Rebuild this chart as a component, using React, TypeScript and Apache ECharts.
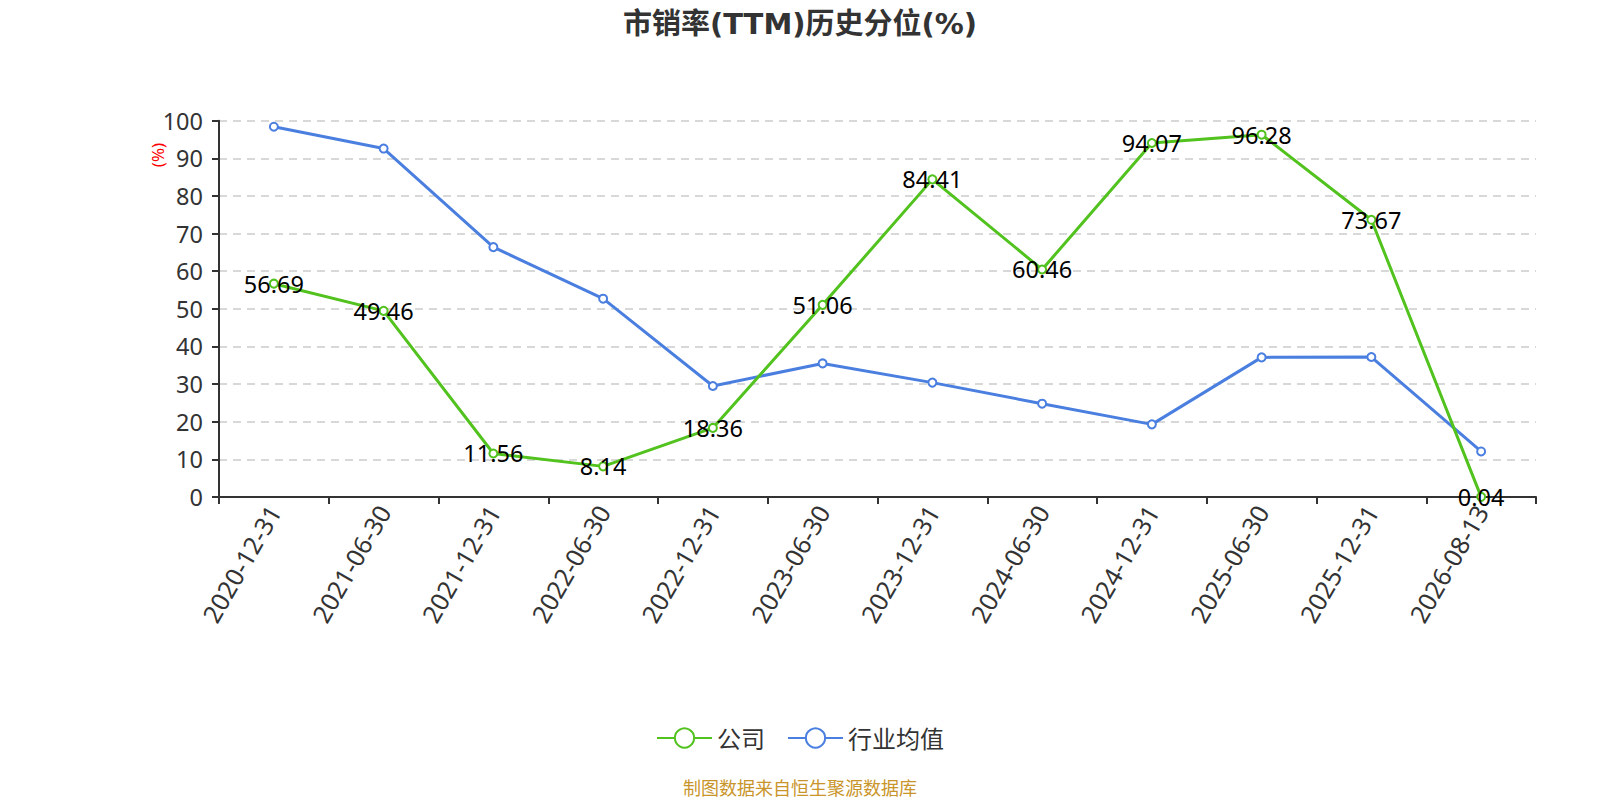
import React, { useEffect, useRef } from "react";
import * as echarts from "echarts";

const categories = [
  "2020-12-31", "2021-06-30", "2021-12-31", "2022-06-30", "2022-12-31", "2023-06-30",
  "2023-12-31", "2024-06-30", "2024-12-31", "2025-06-30", "2025-12-31", "2026-08-13",
];
const companyValues = [56.69, 49.46, 11.56, 8.14, 18.36, 51.06, 84.41, 60.46, 94.07, 96.28, 73.67, 0.04];
const industryValues = [98.4, 92.6, 66.4, 52.7, 29.5, 35.5, 30.4, 24.8, 19.3, 37.1, 37.2, 12.1];
const seriesNames = ["公司", "行业均值"];
const titleText = "市销率(TTM)历史分位(%)";
const footerText = "制图数据来自恒生聚源数据库";
const yName = "(%)";

const FONT = "'Noto Sans', 'Noto Sans CJK SC', sans-serif";
const TITLE_FONT = "'DejaVu Sans', 'Noto Sans CJK SC', sans-serif";

export default function App() {
  const ref = useRef<HTMLDivElement>(null);
  useEffect(() => {
    if (!ref.current) return;
    const chart = echarts.init(ref.current, null, { renderer: "svg" });
    chart.setOption({
      animation: false,
      textStyle: { fontFamily: FONT },
      title: [
        {
          text: titleText,
          left: "center",
          top: 1,
          padding: 0,
          textStyle: { fontSize: 29, fontWeight: "bold", color: "#333", fontFamily: TITLE_FONT },
        },
        {
          text: footerText,
          left: "center",
          top: 771,
          padding: 0,
          textStyle: { fontSize: 18, fontWeight: "normal", color: "#C9952B", fontFamily: FONT },
        },
      ],
      legend: {
        data: seriesNames,
        left: "center",
        top: 713,
        itemWidth: 55,
        itemHeight: 24,
        itemGap: 22,
        textStyle: { fontSize: 24, color: "#333", fontFamily: FONT },
      },
      graphic: [
        {
          type: "text",
          x: 149,
          y: 147,
          rotation: Math.PI / 2,
          style: {
            text: yName,
            fill: "#ff0000",
            fontSize: 17,
            fontFamily: FONT,
            align: "center",
            verticalAlign: "middle",
          },
        },
      ],
      grid: { left: 211, right: 56, top: 112.7, bottom: 311, containLabel: false },
      xAxis: {
        type: "category",
        data: categories,
        boundaryGap: true,
        axisLine: { lineStyle: { color: "#333", width: 2 } },
        axisTick: { show: true, length: 7, lineStyle: { color: "#333", width: 2 } },
        axisLabel: { rotate: 60, fontSize: 25, color: "#333", margin: 10, fontFamily: FONT },
      },
      yAxis: {
        type: "value",
        min: 0,
        max: 100,
        interval: 10,
        axisLine: { show: true, lineStyle: { color: "#333", width: 2 } },
        axisTick: { show: true, length: 7, lineStyle: { color: "#333", width: 2 } },
        axisLabel: { fontSize: 23.5, color: "#333", margin: 16, fontFamily: FONT },
        splitLine: { show: true, lineStyle: { color: "#ccc", type: [8, 6], width: 1.5 } },
      },
      series: [
        {
          name: seriesNames[0],
          type: "line",
          data: companyValues,
          symbol: "emptyCircle",
          symbolSize: 8,
          lineStyle: { color: "#52C21E", width: 3 },
          itemStyle: { color: "#52C21E", borderWidth: 2 },
          label: {
            show: true,
            position: "inside",
            fontSize: 23.5,
            color: "#000",
            fontFamily: FONT,
          },
          z: 3,
        },
        {
          name: seriesNames[1],
          type: "line",
          data: industryValues,
          symbol: "emptyCircle",
          symbolSize: 8,
          lineStyle: { color: "#4A7FE0", width: 3 },
          itemStyle: { color: "#4A7FE0", borderWidth: 2 },
          z: 2,
        },
      ],
    });
    return () => chart.dispose();
  }, []);
  return <div ref={ref} style={{ width: "100%", height: 800 }} />;
}
